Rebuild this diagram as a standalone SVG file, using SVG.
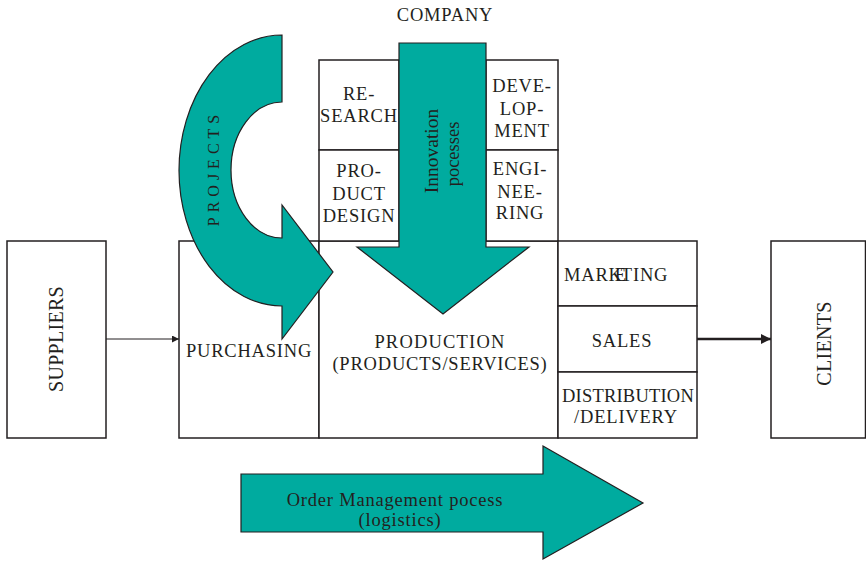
<svg xmlns="http://www.w3.org/2000/svg" width="866" height="561" viewBox="0 0 866 561">
<defs>
<style>
.box{fill:#ffffff;stroke:#231f20;stroke-width:1.5}
.flow{fill:#00ab9f;stroke:#231f20;stroke-width:1.2;stroke-linejoin:miter}
.t{font-family:"Liberation Serif","Times New Roman",serif;font-size:18.5px;fill:#231f20;text-anchor:middle;letter-spacing:0.8px}
.conn{stroke:#231f20;fill:none}
</style>
<marker id="ah" viewBox="0 0 10 10" refX="10" refY="5" markerWidth="7" markerHeight="7" markerUnits="userSpaceOnUse" orient="auto"><path d="M0,0 L10,5 L0,10 Z" fill="#231f20"/></marker>
<marker id="ah2" viewBox="0 0 10 10" refX="10" refY="5" markerWidth="4" markerHeight="4" orient="auto"><path d="M0,0 L10,5 L0,10 Z" fill="#231f20"/></marker>
</defs>
<rect width="866" height="561" fill="#ffffff"/>

<g id="company-label"><text class="t" x="445" y="21">COMPANY</text></g>

<g id="suppliers">
<rect class="box" x="7" y="241" width="99" height="197"/>
<text class="t" transform="translate(63,339) rotate(-90)" style="font-size:20px;letter-spacing:0.3px">SUPPLIERS</text>
</g>

<g id="purchasing">
<rect class="box" x="179" y="241" width="140" height="197"/>
<text class="t" x="249" y="356.5">PURCHASING</text>
</g>

<g id="production">
<rect class="box" x="319" y="241" width="239" height="197"/>
<text class="t" x="440" y="348" style="letter-spacing:1.2px">PRODUCTION</text>
<text class="t" x="440" y="370">(PRODUCTS/SERVICES)</text>
</g>

<g id="research">
<rect class="box" x="319" y="60" width="80" height="90"/>
<text class="t" x="359" y="100">RE-</text>
<text class="t" x="359" y="121.5">SEARCH</text>
</g>

<g id="product-design">
<rect class="box" x="319" y="150" width="80" height="91"/>
<text class="t" x="359" y="177">PRO-</text>
<text class="t" x="359" y="199.5">DUCT</text>
<text class="t" x="359" y="221.5">DESIGN</text>
</g>

<g id="development">
<rect class="box" x="486" y="60" width="72" height="90"/>
<text class="t" x="522" y="92">DEVE-</text>
<text class="t" x="522" y="115">LOP-</text>
<text class="t" x="522" y="137">MENT</text>
</g>

<g id="engineering">
<rect class="box" x="486" y="150" width="72" height="91"/>
<text class="t" x="520" y="174.5">ENGI-</text>
<text class="t" x="520" y="197.5">NEE-</text>
<text class="t" x="520" y="218.5">RING</text>
</g>

<g id="marketing">
<rect class="box" x="558" y="241" width="139" height="65"/>
<text class="t" x="564" y="280.5" style="text-anchor:start">MARK<tspan dx="-8">E</tspan><tspan dx="-6">TING</tspan></text>
</g>

<g id="sales">
<rect class="box" x="558" y="306" width="139" height="66"/>
<text class="t" x="622" y="346.5">SALES</text>
</g>

<g id="distribution">
<rect class="box" x="558" y="372" width="139" height="66"/>
<text class="t" x="628" y="401.5" style="letter-spacing:0.2px">DISTRIBUTION</text>
<text class="t" x="626" y="423">/DELIVERY</text>
</g>

<g id="clients">
<rect class="box" x="771" y="241" width="94.5" height="197"/>
<text class="t" transform="translate(831,343.5) rotate(-90)" style="font-size:20px;letter-spacing:0.3px">CLIENTS</text>
</g>

<g id="connectors">
<line class="conn" x1="106" y1="339" x2="179" y2="339" stroke-width="1" marker-end="url(#ah)"/>
<line class="conn" x1="697" y1="339" x2="771" y2="339" stroke-width="2.5" marker-end="url(#ah2)"/>
</g>

<g id="projects-arrow">
<path class="flow" d="M282,35 L282,102 A51,68 0 0 0 282,238 L282,205 L333,272 L282,339 L282,306 A103,135.5 0 0 1 282,35 Z"/>
<text class="t" transform="translate(219,168) rotate(-90)" style="font-size:16px;letter-spacing:5px">PROJECTS</text>
</g>

<g id="innovation-arrow">
<path class="flow" d="M399,43 L486,43 L486,247 L529,247 L443,314 L357,247 L399,247 Z"/>
<text class="t" transform="translate(438,151) rotate(-90)" style="font-size:19.5px;letter-spacing:0">Innovation</text>
<text class="t" transform="translate(458.5,154) rotate(-90)" style="font-size:18.5px;letter-spacing:0">pocesses</text>
</g>

<g id="order-arrow">
<path class="flow" d="M241,474 L543,474 L543,446 L643,503 L543,559 L543,532 L241,532 Z"/>
<text class="t" x="395" y="506">Order Management pocess</text>
<text class="t" x="400" y="525.5">(logistics)</text>
</g>
</svg>
